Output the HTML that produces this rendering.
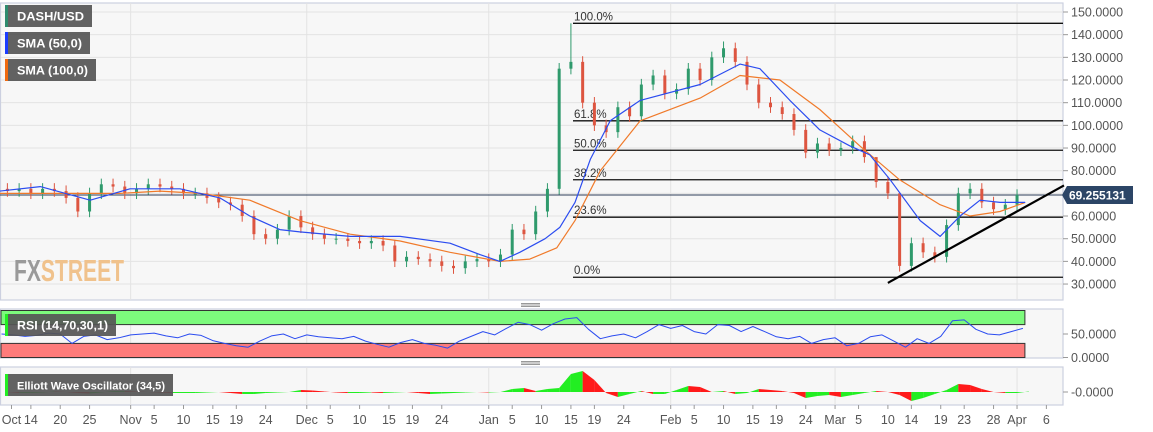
<!DOCTYPE html>
<html><head><meta charset="utf-8"><style>
html,body{margin:0;padding:0;background:#fff;width:1153px;height:432px;overflow:hidden}
svg{display:block;font-family:"Liberation Sans",sans-serif}
</style></head><body>
<svg id="c" width="1153" height="432" xmlns="http://www.w3.org/2000/svg">
<rect x="0" y="0" width="1153" height="432" fill="#fff"/>
<g id="bg"></g>
<g id="grid"></g>
<g id="main"></g>
<g id="rsi"></g>
<g id="ewo"></g>
<g id="axes"></g>
<g id="over"></g>
</svg>
<script>
// ---- data ----
const startDay=-4, step=2;
const closes=[72,71,72,70,72,71,68,62,70,74,73,70,72,
74,73,72,70,70,68,66,65,60,52,50,54,60,
55,52,50,50,49,48,49,47,40,42,41,40,38,
37,40,41,40,43,54,52,62,72,125,128,110,
100,97,108,104,118,122,114,116,125,120,130,134,128,
118,110,108,105,98,88,92,89,90,93,86,75,70,
38,48,44,42,56,70,72,66,63,65,69.3];
const highDays=[94,120,146,150];
const highVals=[145,137,80,46];
const sma50Days=[-4.3,2.6,11.1,17.9,26.4,33.2,38.3,43.4,46.8,55.4,63.9,72.4,77.5,80.9,84.3,88.6,91.1,93.7,96.3,99.7,104.8,115,121.8,125.2,130.3,135.4,140.5,143.9,147.4,152.5,155.9,159.3,162.7,166.1,170.4];
const sma50Vals=[71,73,67,72,72,68,60,54,53,51,51,48,43,40,44,50,55,66,85,102,111,118,127,125,111,98,91,87,76,58,51,60,67,66,66];
const sma100Days=[-4.3,16.2,23,29.8,38.3,46.8,55.4,63.9,72.4,80.9,86,90.6,93.7,98,104.8,115,121.8,128.6,135.4,142.2,149,155.9,161,166.1,170.4];
const sma100Vals=[70,70,71,70,67,58,52,49,44,40,41,46,58,80,102,112,122,120,107,91,76,65,60,62,66];
const rsiVals=[50,48,45,47,52,50,30,45,48,38,42,48,50,
52,46,42,50,47,36,30,25,22,35,46,50,40,
48,44,42,40,45,35,28,22,32,38,30,26,20,
35,45,55,48,62,75,70,58,72,82,85,60,
40,46,50,42,55,70,62,68,55,50,70,68,55,
66,55,44,40,45,30,38,42,25,30,44,48,35,
22,40,30,45,78,80,60,50,48,55,62];
const ewoVals=[0,-1,-1,-0.5,0.5,0,-1,-1.5,-0.5,1,1,0.5,0,
-0.5,-1,-1,-1,-0.5,0,-1,-2,-2,-1,-0.5,0,
2,1.5,0.5,-0.5,-1,-1,-0.5,-1,-0.5,0,-1,-2,-1.5,
-1,-0.5,0,-0.5,0,3,4,1,3,4,18,21,12,
-1,-5,-2,1,-2,-2,2,6,5,0,1,-2,-1,
3,2,1,-1,-6,-4,-3,-5,-3,-1,1,0,-3,
-9,-6,-2,2,8,7,3,0,-1,-1,0.5];
const fibLevels=[145,102,89,76,59.5,33];
const fibLabels=["100.0%","61.8%","50.0%","38.2%","23.6%","0.0%"];
const priceTicks=[150,140,130,120,110,100,90,80,70,60,50,40,30];
const xTickDays=[-2.3,1,6,11,18,22,27,32,36,41,48,52,57,62,66,71,79,83,88,93,97,102,110,114,119,124,128,133,138,142,147,151,156,160,165,169,174];
const xTickLabels=["Oct","14","20","25","Nov","5","10","15","19","24","Dec","5","10","15","19","24","Jan","5","10","15","19","24","Feb","5","10","15","19","24","Mar","5","10","14","19","23","28","Apr","6"];
const monthDays=[18,48,79,110,138,169];
const lastPrice=69.255131;
const trendStart=[147,30.5], trendEnd=[177,73.5];

// ---- axes ----
const NS="http://www.w3.org/2000/svg";
const X=d=>25+d*5.87;
const Y=v=>12+(150-v)*2.267;
const RY=v=>357.5-v*0.47;
const EY=v=>392-v;
function el(tag,attrs,parent){const e=document.createElementNS(NS,tag);for(const k in attrs)e.setAttribute(k,attrs[k]);parent.appendChild(e);return e;}
const bg=document.getElementById('bg'),grid=document.getElementById('grid'),main=document.getElementById('main'),rsi=document.getElementById('rsi'),ewo=document.getElementById('ewo'),axes=document.getElementById('axes'),over=document.getElementById('over');

[[3,300,'price-panel'],[309,358,'rsi-panel'],[367,405,'ewo-panel']].forEach(p=>{
 const r=el('rect',{x:0.5,y:p[0],width:1062.5,height:p[1]-p[0],fill:'#f7f7f7',stroke:'#ccd0e0','stroke-width':1.2},bg);
 
 
});
[305,363].forEach(y=>{
 const g=el('g',{},bg);
 
 
 for(let k=0;k<3;k++)el('line',{x1:521,x2:540,y1:y-1.5+k*1.5,y2:y-1.5+k*1.5,stroke:'#777','stroke-width':0.8},g);
});
priceTicks.forEach(v=>{el('line',{x1:1,x2:1063,y1:Y(v),y2:Y(v),stroke:'#e3e3e3','stroke-width':1},grid);});
monthDays.forEach(d=>{[[3,300],[309,358],[367,405]].forEach(p=>{el('line',{x1:X(d),x2:X(d),y1:p[0],y2:p[1],stroke:'#e3e3e3','stroke-width':1},grid);});});

const wm=el('text',{x:14,y:281,'font-size':31,'font-weight':'bold','font-family':'"Liberation Sans Narrow","Liberation Sans",sans-serif',textLength:110,lengthAdjust:'spacingAndGlyphs'},grid);


wm.innerHTML='<tspan fill="#9a9a9a">FX</tspan><tspan fill="#f0c28c">STREET</tspan>';

fibLevels.forEach((v,i)=>{
 const l=el('line',{x1:573,x2:1063,y1:Y(v),y2:Y(v),stroke:'#111','stroke-width':1.3},main);
 
 
 const t=el('text',{x:574,y:Y(v)-3,'font-size':11.5,fill:'#333'},main);
 
 
 t.textContent=fibLabels[i];
});
const lp=el('line',{x1:0,x2:1063,y1:Y(lastPrice),y2:Y(lastPrice),stroke:'#2c3e5a','stroke-width':1},main);



closes.forEach((c,i)=>{
 if(i===0)return;
 const d=startDay+step*i,o=closes[i-1];
 const up=c>=o,col=up?'#2f9a6c':'#dd5540';
 let hi=Math.max(o,c)+2.5,lo=Math.min(o,c)-2.5;
 const hk=highDays.indexOf(d); if(hk>=0)hi=highVals[hk];
 const g=el('g',{},main);
 
 
 const x=X(d-1);
 el('line',{x1:x,x2:x,y1:Y(hi),y2:Y(lo),stroke:col,'stroke-width':1},g);
 const yt=Y(Math.max(o,c)),yb=Y(Math.min(o,c));
 el('rect',{x:x-1.5,y:yt,width:3,height:Math.max(1,yb-yt),fill:col},g);
});
function poly(days,vals,Yf,col,w,name,parent){
 const p=el('polyline',{points:days.map((d,i)=>X(d).toFixed(1)+','+Yf(vals[i]).toFixed(1)).join(' '),fill:'none',stroke:col,'stroke-width':w,'stroke-linejoin':'round'},parent);
 
 
}
poly(sma100Days,sma100Vals,Y,'#f07a2a',1.2,'sma-100-line',main);
poly(sma50Days,sma50Vals,Y,'#2b4cf0',1.2,'sma-50-line',main);
const tl=el('line',{x1:X(trendStart[0]),y1:Y(trendStart[1]),x2:X(trendEnd[0]),y2:Y(trendEnd[1]),stroke:'#000','stroke-width':2.2},main);



const lastX=X(startDay+step*(closes.length-1))+2;
const gb=el('rect',{x:1,y:RY(100),width:lastX-1,height:RY(70)-RY(100),fill:'#7cfa7c',stroke:'#333','stroke-width':1},rsi);


const rb=el('rect',{x:1,y:RY(30),width:lastX-1,height:RY(0)-RY(30),fill:'#fd7b7b',stroke:'#333','stroke-width':1},rsi);


poly(rsiVals.map((v,i)=>startDay+step*i),rsiVals,RY,'#2b4cf0',1,'rsi-line',rsi);

ewoVals.forEach((v,i)=>{
 const d=startDay+step*i;
 const prev=i>0?ewoVals[i-1]:0;
 const col=v>=prev?'#22ee22':'#ff1a1a';
 const p=el('polygon',{points:[X(d-1)+','+EY(0),X(d-1)+','+EY(prev),X(d+1)+','+EY(v),X(d+1)+','+EY(0)].join(' '),fill:col},ewo);
 
 
});

priceTicks.forEach(v=>{
 el('line',{x1:1063,x2:1068,y1:Y(v),y2:Y(v),stroke:'#999'},axes);
 const t=el('text',{x:1071,y:Y(v)+4.5,'font-size':12.5,fill:'#555'},axes);
 
 
 t.textContent=v.toFixed(4);
});
[[RY(50),'50.0000'],[RY(0),'0.0000'],[EY(0),'-0.0000']].forEach(a=>{
 el('line',{x1:1063,x2:1068,y1:a[0],y2:a[0],stroke:'#999'},axes);
 const t=el('text',{x:1071,y:a[0]+4.5,'font-size':12.5,fill:'#555'},axes);
 
 
 t.textContent=a[1];
});
xTickDays.forEach((d,i)=>{
 el('line',{x1:X(d),x2:X(d),y1:405,y2:409,stroke:'#999'},axes);
 const t=el('text',{x:X(d),y:424,'font-size':12.5,fill:'#555','text-anchor':'middle'},axes);
 
 
 t.textContent=xTickLabels[i];
});
const pg=el('g',{},over);


el('polygon',{points:[1062,Y(lastPrice),1067,Y(lastPrice)-9,1133,Y(lastPrice)-9,1133,Y(lastPrice)+9,1067,Y(lastPrice)+9].join(' '),fill:'#2c4566'},pg);
const pt=el('text',{x:1069,y:Y(lastPrice)+4.5,'font-size':12,'font-weight':'bold',fill:'#fff'},pg);
pt.textContent='69.255131';

[[5,5,87,'#2e8b6e','DASH/USD','legend-dash-usd',11.5],[5,32,85,'#1a3cff','SMA (50,0)','legend-sma-50',11.5],[5,59,91,'#f06a10','SMA (100,0)','legend-sma-100',11.5],[5,314,111,'#22ee22','RSI (14,70,30,1)','legend-rsi',11.5],[5,374,168,'#22ee22','Elliott Wave Oscillator (34,5)','legend-ewo',11]].forEach(a=>{
 const g=el('g',{},over);
 
 
 el('rect',{x:a[0],y:a[1],width:a[2],height:22,fill:'#555','fill-opacity':0.92},g);
 el('rect',{x:a[0],y:a[1],width:3,height:22,fill:a[3]},g);
 const t=el('text',{x:a[0]+12,y:a[1]+15.5,'font-size':a[6],'font-weight':'bold',fill:'#fff',textLength:a[2]-20,lengthAdjust:'spacingAndGlyphs'},g);
 t.textContent=a[4];
});
</script>
</body></html>
